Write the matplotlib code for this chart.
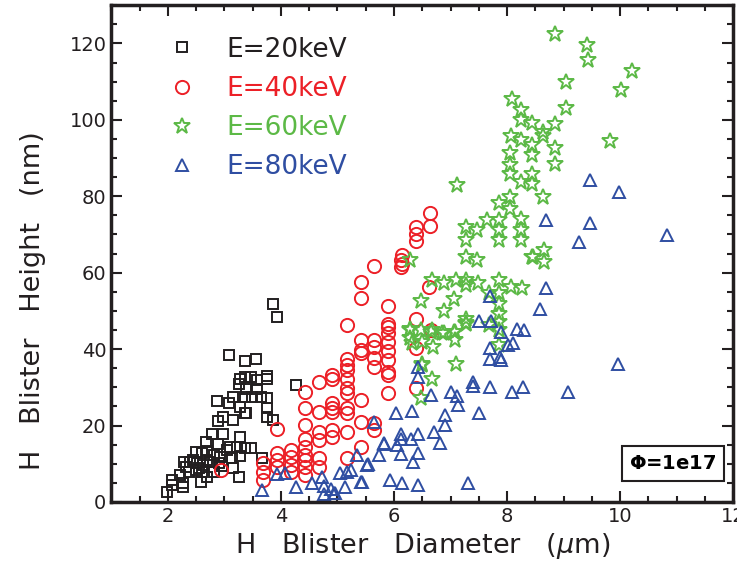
import numpy as np
import matplotlib
matplotlib.use("Agg")
import matplotlib.pyplot as plt
from matplotlib.ticker import MultipleLocator

# E = 20 keV (black squares)
d20 = [3.86, 3.93, 3.08, 3.37, 3.56, 3.28, 3.37, 3.47, 3.57, 3.76, 3.76, 3.25, 3.39, 3.58,
       3.16, 2.87, 3.08, 3.37, 3.49, 3.65, 3.76, 3.27, 3.39, 3.76, 3.76, 3.86, 2.98, 2.88,
       3.16, 3.37, 2.78, 2.98, 2.88, 2.68, 2.49, 2.60, 2.69, 2.81, 2.92, 3.05, 3.10, 3.28,
       3.22, 3.37, 3.47, 3.28, 3.14, 2.28, 2.40, 2.52, 2.63, 2.75, 2.37, 2.49, 2.60, 2.69,
       2.58, 2.21, 2.07, 2.07, 2.27, 2.27, 1.99, 3.16, 3.25, 3.67, 2.81, 2.90, 4.26, 2.45,
       2.55, 2.70, 2.33, 2.95]
h20 = [51.9, 48.3, 38.4, 36.9, 37.3, 32.3, 32.6, 32.8, 31.9, 32.9, 32.1, 31.0, 29.5, 29.5,
       27.4, 26.5, 26.0, 27.4, 27.5, 27.4, 27.1, 24.9, 23.4, 24.5, 22.3, 21.4, 22.3, 21.3,
       21.4, 23.3, 17.8, 17.9, 15.2, 15.8, 13.2, 12.7, 13.4, 12.3, 11.8, 13.6, 14.5, 16.9,
       14.5, 14.0, 14.0, 12.0, 11.4, 10.5, 10.5, 10.1, 9.7, 10.5, 7.9, 8.4, 7.9, 6.6,
       5.3, 7.1, 5.8, 4.4, 5.0, 3.8, 2.7, 8.8, 6.6, 11.4, 7.9, 10.1, 30.6, 11.0,
       9.0, 11.0, 9.2, 9.5]

# E = 40 keV (red circles)
d40 = [6.63, 6.63, 6.39, 6.39, 6.39, 6.14, 6.14, 5.65, 5.41, 5.41, 5.89, 5.16, 5.89, 5.89,
       5.89, 5.41, 5.41, 5.41, 5.65, 5.65, 5.65, 5.65, 5.89, 5.89, 5.89, 5.89, 5.89, 5.89,
       5.16, 5.16, 5.16, 5.16, 5.16, 5.16, 5.16, 5.16, 5.16, 5.16, 4.90, 4.90, 4.67, 4.90,
       4.90, 4.90, 4.90, 4.90, 4.67, 4.67, 4.67, 4.67, 4.67, 4.43, 4.43, 4.43, 4.43, 4.43,
       4.43, 4.43, 4.43, 4.43, 4.18, 4.18, 4.18, 4.18, 3.93, 3.93, 3.93, 3.93, 5.41, 5.41,
       5.41, 5.65, 5.65, 6.38, 6.38, 6.38, 6.62, 6.65, 3.68, 3.68, 3.68, 2.94, 6.13, 6.13]
h40 = [75.7, 72.2, 72.0, 70.2, 68.3, 64.6, 62.4, 61.7, 57.6, 53.5, 51.2, 46.3, 46.7, 45.7,
       44.3, 42.4, 39.9, 38.9, 42.4, 40.6, 37.6, 35.4, 41.9, 39.6, 37.1, 34.1, 33.2, 28.4,
       37.3, 35.8, 34.5, 32.3, 29.7, 28.4, 24.5, 23.2, 18.4, 11.4, 33.2, 32.3, 31.5, 25.8,
       24.5, 23.6, 18.8, 17.1, 23.6, 18.4, 16.2, 11.4, 9.2, 28.8, 24.5, 20.1, 16.6, 14.5,
       12.3, 11.0, 9.2, 7.1, 13.6, 11.8, 9.7, 7.9, 12.7, 11.0, 9.2, 19.0, 26.7, 21.0,
       14.5, 20.6, 18.8, 48.0, 40.2, 29.7, 56.3, 45.0, 10.1, 7.9, 5.8, 8.4, 63.3, 61.5]

# E = 60 keV (green stars)
d60 = [8.84, 9.42, 9.43, 10.21, 9.04, 10.02, 8.09, 9.04, 8.25, 8.25, 8.44, 8.64, 8.64, 8.84,
       8.06, 8.24, 8.44, 8.44, 8.84, 8.84, 9.82, 8.05, 8.05, 8.05, 8.24, 8.44, 8.44, 8.64,
       7.85, 8.05, 8.05, 7.65, 7.85, 7.85, 7.85, 7.47, 8.25, 8.25, 8.25, 8.44, 8.65, 8.65,
       7.47, 7.11, 7.28, 7.28, 7.28, 8.46, 6.28, 6.67, 6.88, 7.09, 7.28, 7.28, 7.48, 7.85,
       8.06, 8.26, 7.85, 7.85, 7.85, 7.85, 6.48, 7.06, 6.88, 7.27, 6.29, 6.65, 6.85, 7.06,
       7.68, 6.28, 6.28, 6.47, 6.50, 6.67, 6.69, 6.88, 7.07, 7.07, 7.27, 7.28, 7.68, 7.85,
       7.85, 7.09, 6.50, 6.67, 6.47, 6.32, 6.50]
h60 = [122.4, 119.5, 115.7, 112.9, 109.9, 107.7, 105.5, 103.2, 102.5, 99.9, 99.2, 96.8, 95.9, 98.8,
       95.9, 94.8, 93.3, 90.7, 92.7, 88.5, 94.5, 91.3, 88.1, 85.8, 83.7, 85.8, 83.3, 79.8,
       78.3, 79.8, 76.8, 73.7, 73.9, 71.1, 68.5, 71.1, 74.1, 71.1, 68.5, 64.0, 65.9, 62.8,
       63.4, 82.9, 72.0, 68.5, 64.1, 64.1, 63.3, 58.0, 57.2, 58.2, 58.0, 56.7, 57.2, 58.0,
       56.3, 55.9, 54.6, 51.9, 49.3, 47.1, 52.6, 53.2, 50.0, 46.9, 45.0, 44.5, 44.1, 44.5,
       54.6, 45.4, 42.8, 45.0, 41.9, 45.0, 40.6, 44.1, 44.5, 42.4, 46.7, 48.0, 46.3, 45.0,
       41.0, 36.2, 35.8, 32.3, 27.1, 41.5, 36.2]

# E = 80 keV (blue triangles)
d80 = [9.47, 9.98, 8.68, 9.47, 9.27, 10.83, 8.69, 8.58, 7.69, 7.50, 7.71, 7.90, 8.18, 8.30,
       8.11, 8.01, 7.69, 7.69, 7.88, 7.90, 9.96, 7.40, 7.40, 7.69, 8.09, 8.28, 9.08, 6.65,
       7.00, 7.11, 7.13, 6.91, 6.91, 7.50, 6.70, 6.81, 7.31, 6.42, 6.42, 6.03, 6.32, 5.83,
       6.12, 6.12, 6.06, 6.42, 6.30, 6.13, 6.42, 6.34, 5.93, 6.14, 6.42, 5.64, 5.82, 5.73,
       5.52, 5.34, 5.17, 5.05, 5.41, 5.14, 4.93, 4.76, 4.76, 4.73, 4.55, 4.26, 3.93, 4.08,
       3.67, 4.88, 4.95, 5.24, 5.54, 5.44]
h80 = [84.2, 81.1, 73.7, 73.0, 68.1, 69.8, 55.9, 50.6, 53.9, 47.4, 47.4, 44.5, 45.4, 45.0,
       41.7, 41.0, 40.4, 37.3, 38.0, 37.1, 36.1, 31.5, 30.4, 30.0, 28.8, 30.0, 28.8, 28.0,
       28.8, 27.7, 25.4, 22.7, 20.1, 23.2, 18.4, 15.5, 5.1, 35.2, 32.8, 23.4, 23.9, 15.5,
       17.9, 16.4, 14.9, 17.9, 16.6, 12.5, 12.7, 10.5, 5.8, 5.1, 4.4, 21.0, 15.3, 12.3,
       9.7, 12.3, 7.9, 7.5, 5.3, 4.0, 2.4, 2.1, 4.2, 6.5, 4.9, 3.8, 7.3, 7.7,
       3.1, 3.3, 2.3, 8.5, 9.9, 5.3]

labels = ["E=20keV", "E=40keV", "E=60keV", "E=80keV"]
colors = ["#231f20", "#ec2027", "#5cb946", "#2f4ea2"]

fig = plt.figure(figsize=(7.37, 5.79), dpi=100)
ax = fig.add_axes([0.151, 0.133, 0.844, 0.858])

style = dict(linestyle="none", markerfacecolor="none", markeredgewidth=1.4)
ax.plot(d20, h20, marker="s", markersize=6.8, color=colors[0], label=labels[0], **style)
ax.plot(d40, h40, marker="o", markersize=9.5, color=colors[1], label=labels[1], **style)
ax.plot(d60, h60, marker="*", markersize=12, color=colors[2], label=labels[2], **style)
ax.plot(d80, h80, marker="^", markersize=9, color=colors[3], label=labels[3], **style)

ax.set_xlim(1, 12)
ax.set_ylim(0, 130)
ax.xaxis.set_major_locator(MultipleLocator(2))
ax.xaxis.set_minor_locator(MultipleLocator(0.5))
ax.yaxis.set_major_locator(MultipleLocator(20))
ax.yaxis.set_minor_locator(MultipleLocator(5))
ax.tick_params(which="both", direction="in", top=True, right=True, labelsize=14,
               width=1.5, colors="#231f20")
ax.tick_params(which="major", length=8)
ax.tick_params(which="minor", length=4.5)
for s in ax.spines.values():
    s.set_linewidth(2.5)
    s.set_color("#231f20")

ax.set_xlabel("H   Blister   Diameter   ($\\mu$m)", fontsize=19.5, color="#231f20", labelpad=4)
ax.set_ylabel("H   Blister   Height   (nm)", fontsize=19.5, color="#231f20")
ax.yaxis.set_label_coords(-0.105, 0.406)

leg = ax.legend(loc="upper left", bbox_to_anchor=(0.062, 0.958), frameon=False,
                fontsize=19, handlelength=1.6, handletextpad=0.9, labelspacing=0.5,
                numpoints=1, labelcolor=colors, borderaxespad=0)

ax.text(0.903, 0.078, "$\\mathbf{\\Phi}$=1e17", transform=ax.transAxes, ha="center",
        va="center", fontsize=14, fontweight="bold",
        bbox=dict(boxstyle="square,pad=0.4", facecolor="white", edgecolor="#231f20",
                  linewidth=1.5))

fig.savefig("out.png", dpi=100)
